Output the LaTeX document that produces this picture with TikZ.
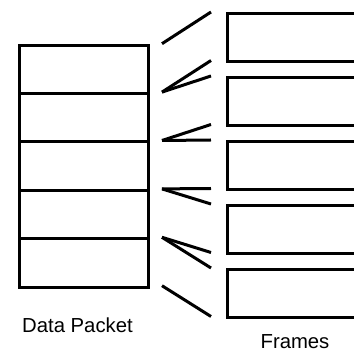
\documentclass[tikz,border=0pt]{standalone}
\usepackage{fontspec}
\setmainfont{Liberation Sans}
\begin{document}
\begin{tikzpicture}[x=1pt,y=-1pt,
  cell/.style={draw=black,line width=3pt,minimum width=129.5pt,minimum height=48.4pt,inner sep=0pt,anchor=north west},
  frm/.style={draw=black,line width=3pt,minimum width=170pt,minimum height=48.5pt,inner sep=0pt,anchor=north west},
  link/.style={line width=3pt,black},
  lbl/.style={font=\fontsize{20.3}{24}\selectfont,inner sep=0pt,anchor=base}]
\useasboundingbox (0,0) rectangle (354,352);
% packet split into five cells
\foreach \i in {0,...,4}{
  \node[cell] (p\i) at (17.5,{43.7+48.4*\i}) {};
}
% frames on the right, running past the right margin
\begin{scope}
\clip (0,0) rectangle (354,352);
\foreach \i in {0,...,4}{
  \node[frm] (f\i) at (225.5,{12+64*\i}) {};
}
\end{scope}
% link end points beside the packet boundaries
\foreach \i in {0,...,5}{
  \coordinate (a\i) at (162,{43.7+48.4*\i});
}
% link end points beside the frame edges
\foreach \i in {0,...,4}{
  \coordinate (t\i) at (211,{12+64*\i});
  \coordinate (b\i) at (211,{60.5+64*\i});
}
\draw[link] (a0) -- (t0);
\draw[link] (a1) -- (b0);
\draw[link] (a1) -- (t1);
\draw[link] (a2) -- (b1);
\draw[link] (a2) -- (t2);
\draw[link] (a3) -- (b2);
\draw[link] (a3) -- (t3);
\draw[link] (a4) -- (b3);
\draw[link] (a4) -- (t4);
\draw[link] (a5) -- (b4);
\node[lbl] (pk) at (77.5,332.3) {Data Packet};
\node[lbl] (fr) at (295,348.3) {Frames};
\end{tikzpicture}
\end{document}
